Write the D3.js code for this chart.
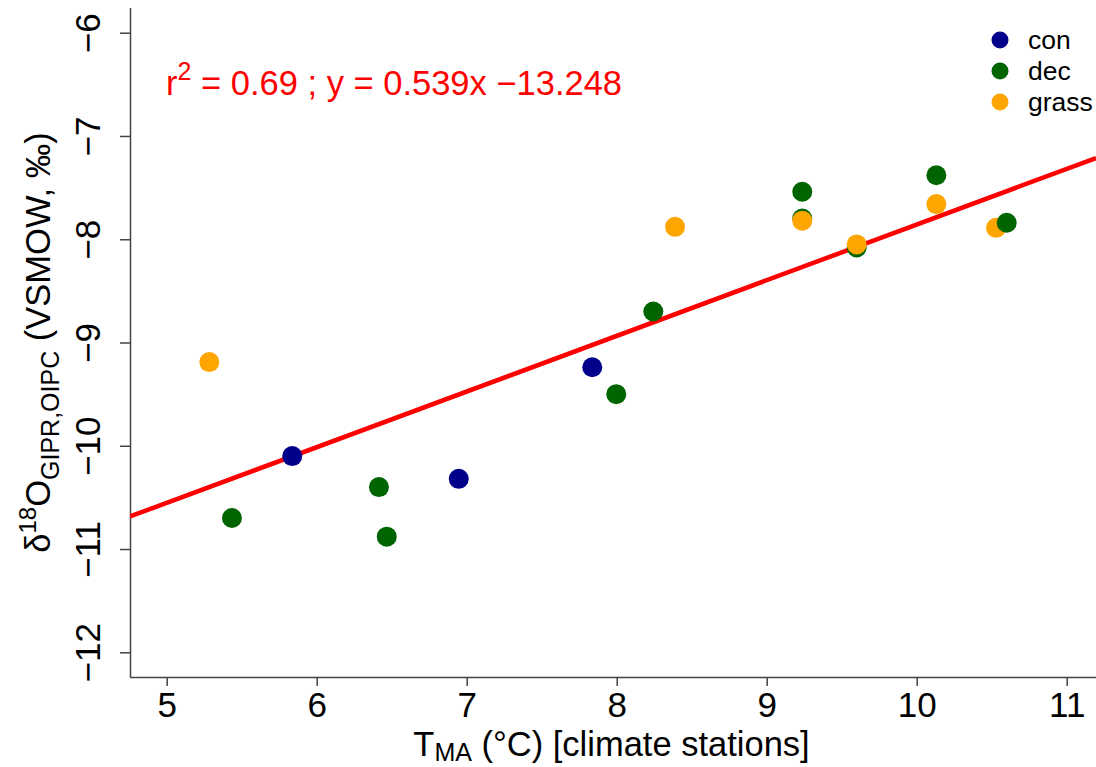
<!DOCTYPE html>
<html>
<head>
<meta charset="utf-8">
<script src="https://cdn.jsdelivr.net/npm/d3@7"></script>
<style>
  body { margin: 0; background: #fff; }
  text { font-family: "Liberation Sans", Arial, sans-serif; }
</style>
</head>
<body>
<script>
// data (T_MA in °C, delta18O in permil)
const categories = ["con", "dec", "grass"];
const colors = ["#00008B", "#006400", "#FFA500"];

// drawing order matters where points overlap
const pointGroup = ["grass", "dec", "con", "dec", "dec", "con", "con", "dec", "dec", "grass",
                    "dec", "dec", "grass", "dec", "grass", "dec", "grass", "grass", "dec"];
const pointT = [5.284, 5.435, 5.837, 6.415, 6.467, 6.947, 7.837, 7.997, 8.244, 8.389,
                9.237, 9.237, 9.237, 9.600, 9.600, 10.131, 10.131, 10.529, 10.600];
const pointD = [-9.19, -10.70, -10.10, -10.40, -10.88, -10.32, -9.24, -9.50, -8.70, -7.88,
                -7.54, -7.80, -7.82, -8.08, -8.05, -7.38, -7.66, -7.89, -7.84];

// regression
const slope = 0.539;
const intercept = -13.248;
const r2 = 0.69;

const xTicks = [5, 6, 7, 8, 9, 10, 11];
const yTicks = [-6, -7, -8, -9, -10, -11, -12];

const width = 1096, height = 767;
const plotLeft = 130, plotRight = 1096, plotTop = 8, plotBottom = 677;

const x = d3.scaleLinear().domain([5, 11]).range([166.7, 1066.7]);
const y = d3.scaleLinear().domain([-6, -12]).range([32.7, 652.3]);
const color = d3.scaleOrdinal().domain(categories).range(colors);

const svg = d3.select("body").append("svg")
    .attr("width", width)
    .attr("height", height);

const axisColor = "#444";

// x axis
const xAxis = svg.append("g")
    .attr("transform", `translate(0,${plotBottom})`)
    .call(d3.axisBottom(x).tickValues(xTicks).tickSize(9).tickPadding(4).tickFormat(d3.format("d")));
xAxis.select(".domain").attr("d", `M${plotLeft},0.5H${plotRight}`).attr("stroke", axisColor).attr("stroke-width", 1.5);
xAxis.selectAll(".tick line").attr("stroke", axisColor).attr("stroke-width", 1.5);
xAxis.selectAll(".tick text")
    .attr("font-size", 35)
    .attr("fill", "#000")
    .attr("y", 40)
    .attr("dy", null)
    .style("font-family", "'Liberation Sans', Arial, sans-serif");

// y axis
const yAxis = svg.append("g")
    .attr("transform", `translate(${plotLeft},0)`)
    .call(d3.axisLeft(y).tickValues(yTicks).tickSize(10).tickFormat(d => "\u2212" + Math.abs(d)));
yAxis.select(".domain").attr("d", `M0.5,${plotTop}V${plotBottom}`).attr("stroke", axisColor).attr("stroke-width", 1.5);
yAxis.selectAll(".tick line").attr("stroke", axisColor).attr("stroke-width", 1.5);
yAxis.selectAll(".tick text")
    .attr("font-size", 35)
    .attr("fill", "#000")
    .attr("x", null)
    .attr("dy", null)
    .attr("text-anchor", "middle")
    .attr("transform", "translate(-30,0) rotate(-90)")
    .style("font-family", "'Liberation Sans', Arial, sans-serif");

// regression line across plot area
svg.append("clipPath").attr("id", "plotclip")
    .append("rect").attr("x", plotLeft).attr("y", plotTop)
    .attr("width", plotRight - plotLeft).attr("height", plotBottom - plotTop);

const xs = [x.invert(plotLeft), x.invert(plotRight)];
svg.append("path")
    .attr("clip-path", "url(#plotclip)")
    .attr("fill", "none")
    .attr("stroke", "#FF0000")
    .attr("stroke-width", 4.5)
    .attr("d", d3.line().x(d => x(d)).y(d => y(slope * d + intercept))(xs));

// points
svg.append("g")
    .selectAll("circle")
    .data(pointT.map((t, i) => ({ t, d: pointD[i], g: pointGroup[i] })))
    .join("circle")
    .attr("cx", d => x(d.t))
    .attr("cy", d => y(d.d))
    .attr("r", 10)
    .attr("fill", d => color(d.g));

// annotation
const ann = svg.append("text")
    .attr("x", 166)
    .attr("y", 95)
    .attr("font-size", 34.5)
    .attr("fill", "#FF0000");
ann.append("tspan").text("r");
ann.append("tspan").attr("font-size", 25).attr("dy", -15).text("2");
ann.append("tspan").attr("dy", 15).text(` = ${r2} ; y = ${slope}x \u2212${Math.abs(intercept)}`);

// legend
const legend = svg.append("g");
categories.forEach((c, i) => {
    legend.append("circle")
        .attr("cx", 1000).attr("cy", 40 + i * 31).attr("r", 8.5)
        .attr("fill", colors[i]);
    legend.append("text")
        .attr("x", 1028).attr("y", 49 + i * 31)
        .attr("font-size", 26.5)
        .attr("fill", "#000")
        .text(c);
});

// x title, centred on the plot width
const xt = svg.append("text")
    .attr("x", 611.5).attr("y", 756)
    .attr("text-anchor", "middle")
    .attr("font-size", 34.5)
    .attr("fill", "#000");
xt.append("tspan").text("T");
xt.append("tspan").attr("font-size", 25).attr("dy", 5).text("MA");
xt.append("tspan").attr("dy", -5).text(" (\u00B0C) [climate stations]");

// y title, centred on the plot height
const yt = svg.append("text")
    .attr("transform", `translate(50,${(plotTop + plotBottom) / 2}) rotate(-90)`)
    .attr("text-anchor", "middle")
    .attr("font-size", 34.5)
    .attr("fill", "#000");
yt.append("tspan").text("\u03B4");
yt.append("tspan").attr("font-size", 24).attr("dy", -14).text("18");
yt.append("tspan").attr("dy", 14).text("O");
yt.append("tspan").attr("font-size", 25).attr("dy", 9).text("GIPR,OIPC");
yt.append("tspan").attr("dy", -9).text(" (VSMOW, \u2030)");
</script>
</body>
</html>
